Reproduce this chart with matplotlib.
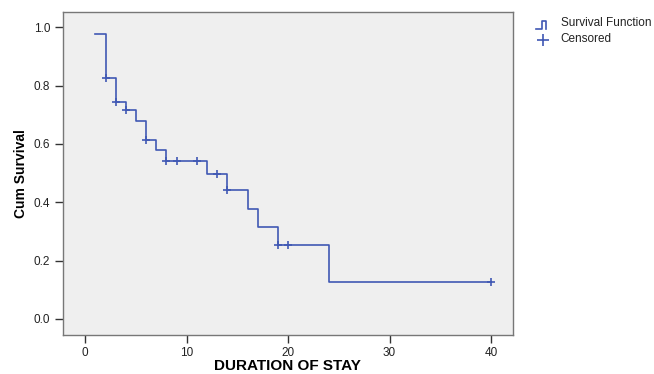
import matplotlib.pyplot as plt
from matplotlib.lines import Line2D

# Kaplan-Meier estimate
event_times = [1, 2, 3, 4, 5, 6, 7, 8, 12, 14, 16, 17, 19, 24, 40]
survival = [0.975, 0.825, 0.744, 0.715, 0.680, 0.612, 0.578, 0.540,
            0.497, 0.441, 0.378, 0.316, 0.252, 0.126, 0.126]
censored_times = [2, 3, 4, 6, 8, 9, 11, 13, 14, 19, 20, 40]
censored_surv = [0.825, 0.744, 0.715, 0.612, 0.540, 0.540, 0.540,
                 0.497, 0.441, 0.252, 0.252, 0.126]
xticks = [0, 10, 20, 30, 40]
yticks = [0.0, 0.2, 0.4, 0.6, 0.8, 1.0]

line_color = '#4058b4'
plt.rcParams['font.family'] = ['Liberation Sans', 'DejaVu Sans']

W, H = 654, 374
fig = plt.figure(figsize=(W / 100, H / 100), dpi=100)
ax = fig.add_axes([62.7 / W, 1 - 335 / H, (512.7 - 62.7) / W, (335 - 11.7) / H])
ax.set_facecolor('#efefef')

ax.step(event_times, survival, where='post', color=line_color, lw=1.2)
ax.plot(censored_times, censored_surv, ls='none', marker='+', ms=6,
        mew=1.2, color=line_color)

ax.set_xlim(-2.23, 42.15)
ax.set_ylim(-0.055, 1.053)
ax.set_xticks(xticks)
ax.set_yticks(yticks)
ax.set_yticklabels([f'{v:.1f}' for v in yticks])
ax.tick_params(direction='out', length=6, width=1, color='#333333',
               labelsize=8.5, labelcolor='#222222', pad=3)
for s in ax.spines.values():
    s.set_color('#777777')
    s.set_linewidth(1)

ax.set_ylabel('Cum Survival', fontsize=10, fontweight='bold', labelpad=4)
ax.set_xlabel('DURATION OF STAY', fontsize=11, fontweight='bold', labelpad=0)

# legend outside on the right
def fx(px):
    return px / W

def fy(py):
    return 1 - py / H

fig.add_artist(Line2D([fx(536), fx(541.7), fx(541.7), fx(545.7), fx(545.7)],
                      [fy(29), fy(29), fy(21), fy(21), fy(29)],
                      transform=fig.transFigure, color=line_color, lw=1.2))
fig.add_artist(Line2D([fx(542.7)], [fy(39.5)], transform=fig.transFigure,
                      marker='+', ms=8, mew=1.2, color=line_color))
fig.text(fx(560.7), fy(23), 'Survival Function', fontsize=8.5,
         va='center', ha='left', color='#222222')
fig.text(fx(560.7), fy(39.5), 'Censored', fontsize=8.5,
         va='center', ha='left', color='#222222')

fig.savefig('out.png', dpi=100)
